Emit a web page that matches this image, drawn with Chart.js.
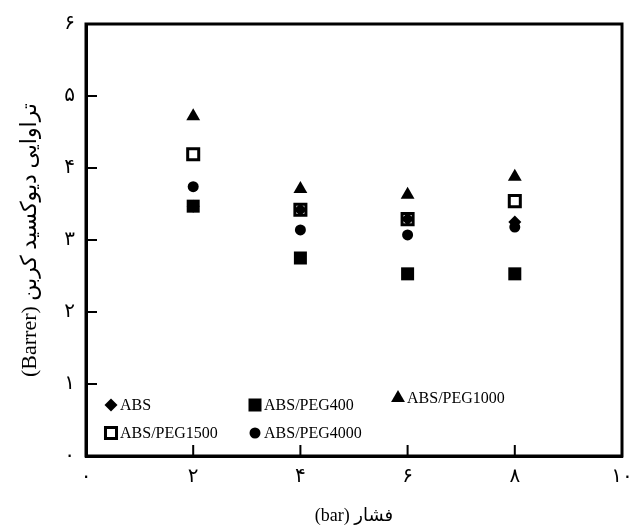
<!DOCTYPE html>
<html>
<head>
<meta charset="utf-8">
<script src="https://cdn.jsdelivr.net/npm/chart.js@4.4.0/dist/chart.umd.min.js"></script>
<style>
  html, body { margin: 0; padding: 0; background: #fff; }
  #wrap { width: 633px; height: 531px; }
  canvas { direction: rtl; }
</style>
</head>
<body>
<div id="wrap"><canvas id="chart" width="633" height="531"></canvas></div>
<script>
// pressure (bar)
const pressures = [2, 4, 6, 8];

// CO2 permeability (Barrer)
const abs = [3.47, 3.42, 3.29, 3.25];
const peg400 = [3.47, 2.75, 2.53, 2.53];
const peg1000 = [4.72, 3.71, 3.63, 3.88];
const peg1500 = [4.19, 3.42, 3.29, 3.54];
const peg4000 = [3.74, 3.14, 3.07, 3.18];

const xTickLabels = ['۰', '۲', '۴', '۶', '۸', '۱۰'];
const yTickLabels = ['۰', '۱', '۲', '۳', '۴', '۵', '۶'];

const FONT = "'Liberation Serif', 'DejaVu Sans', serif";

function points(values) {
    return pressures.map((p, i) => ({ x: p, y: values[i] }));
}

const datasets = [
    { label: 'ABS', data: points(abs), pointStyle: 'rectRot', pointRadius: 6.5,
      backgroundColor: '#000', borderColor: '#000', borderWidth: 0 },
    { label: 'ABS/PEG400', data: points(peg400), pointStyle: 'rect', pointRadius: 9.2,
      backgroundColor: '#000', borderColor: '#000', borderWidth: 0 },
    { label: 'ABS/PEG1000', data: points(peg1000), pointStyle: 'triangle', pointRadius: 8,
      backgroundColor: '#000', borderColor: '#000', borderWidth: 0 },
    { label: 'ABS/PEG1500', data: points(peg1500), pointStyle: 'rect', pointRadius: 7.8,
      backgroundColor: '#fff', borderColor: '#000', borderWidth: 3 },
    { label: 'ABS/PEG4000', data: points(peg4000), pointStyle: 'circle', pointRadius: 5.5,
      backgroundColor: '#000', borderColor: '#000', borderWidth: 0 }
];

// legend slots inside the plot, offsets from bottom-left corner
const legendSlots = [[25, 51], [169, 51], [312, 58], [25, 23], [169, 23]];

const frame = {
    id: 'frame',
    afterDraw(chart) {
        const ctx = chart.ctx;
        const a = chart.chartArea;
        const xs = chart.scales.x, ys = chart.scales.y;
        ctx.save();
        ctx.strokeStyle = '#000';
        ctx.lineWidth = 3;
        ctx.strokeRect(a.left, a.top, a.right - a.left, a.bottom - a.top);

        // inward ticks
        ctx.lineWidth = 2;
        ctx.beginPath();
        for (let v = 1; v <= 5; v++) {
            const py = ys.getPixelForValue(v);
            ctx.moveTo(a.left, py);
            ctx.lineTo(a.left + 11, py);
        }
        for (let v = 2; v <= 8; v += 2) {
            const px = xs.getPixelForValue(v);
            ctx.moveTo(px, a.bottom);
            ctx.lineTo(px, a.bottom - 11);
        }
        ctx.stroke();

        // legend
        ctx.font = '16px ' + FONT;
        ctx.textAlign = 'left';
        ctx.textBaseline = 'middle';
        chart.data.datasets.forEach((ds, i) => {
            const x = a.left + legendSlots[i][0];
            const y = a.bottom - legendSlots[i][1];
            ctx.fillStyle = ds.backgroundColor;
            ctx.strokeStyle = ds.borderColor;
            ctx.lineWidth = ds.borderWidth;
            Chart.helpers.drawPoint(ctx, {
                pointStyle: ds.pointStyle,
                radius: ds.pointRadius,
                borderWidth: ds.borderWidth,
                rotation: 0
            }, x, y);
            ctx.fillStyle = '#000';
            ctx.fillText(ds.label, x + 9, y + 1);
        });
        ctx.restore();
    }
};

new Chart(document.getElementById('chart'), {
    type: 'scatter',
    data: { datasets: datasets },
    options: {
        responsive: false,
        animation: false,
        layout: { padding: { top: 24, right: 0, left: 0, bottom: 0 } },
        plugins: {
            legend: { display: false },
            tooltip: { enabled: false }
        },
        scales: {
            x: {
                min: 0, max: 10,
                afterFit: (s) => { s.height = 75; s.paddingRight = 11; },
                grid: { display: false, drawTicks: false },
                border: { display: true, color: '#000', width: 3 },
                ticks: {
                    stepSize: 2,
                    padding: 9,
                    color: '#000',
                    font: { family: FONT, size: 20 },
                    callback: (v, i) => xTickLabels[i]
                },
                title: {
                    display: true,
                    text: 'فشار (bar)',
                    color: '#000',
                    font: { family: FONT, size: 18 },
                    padding: { top: 0, bottom: 4 }
                }
            },
            y: {
                min: 0, max: 6,
                afterFit: (s) => { s.width = 86; },
                grid: { display: false, drawTicks: false },
                border: { display: true, color: '#000', width: 3 },
                ticks: {
                    stepSize: 1,
                    padding: 11,
                    color: '#000',
                    font: { family: FONT, size: 20 },
                    callback: (v, i) => yTickLabels[i]
                },
                title: {
                    display: true,
                    text: 'تراوایی دیوکسید کربن (Barrer)',
                    color: '#000',
                    font: { family: FONT, size: 22 },
                    padding: { top: 17, bottom: 0 }
                }
            }
        }
    },
    plugins: [frame]
});
</script>
</body>
</html>
